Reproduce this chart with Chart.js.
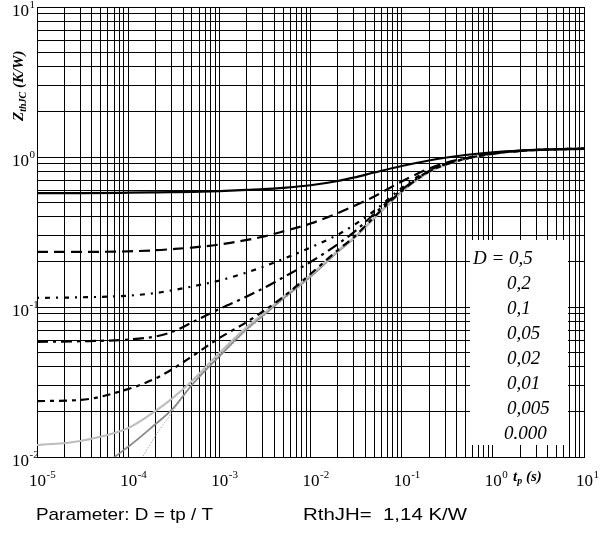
<!DOCTYPE html>
<html>
<head>
<meta charset="utf-8">
<script src="https://cdn.jsdelivr.net/npm/chart.js@4.4.1/dist/chart.umd.min.js"></script>
<style>
  html, body { margin: 0; padding: 0; background: #fff; }
  #wrap { position: relative; width: 601px; height: 546px; }
</style>
</head>
<body>
<div id="wrap"><canvas id="zth" width="601" height="546"></canvas></div>
<script>
// pulse width tp (s)
const tp = [1e-5, 3e-5, 1e-4, 2e-4, 3e-4, 5e-4, 1e-3, 2e-3, 3e-3, 5e-3, 1e-2, 2e-2, 3e-2, 5e-2, 0.1, 0.2, 0.3, 0.5, 1, 2, 5, 10];

// ZthJC (K/W), one list per duty cycle
const zD05 = [0.575, 0.575, 0.578, 0.581, 0.583, 0.586, 0.593, 0.603, 0.610, 0.623, 0.648, 0.692, 0.730, 0.788, 0.871, 0.948, 0.988, 1.031, 1.076, 1.105, 1.126, 1.131];
const zD02 = [0.233, 0.233, 0.235, 0.239, 0.243, 0.249, 0.261, 0.280, 0.294, 0.319, 0.360, 0.423, 0.471, 0.546, 0.687, 0.838, 0.912, 0.980, 1.059, 1.100, 1.126, 1.139];
const zD01 = [0.115, 0.116, 0.119, 0.124, 0.129, 0.137, 0.150, 0.170, 0.185, 0.209, 0.249, 0.304, 0.352, 0.437, 0.622, 0.819, 0.898, 0.974, 1.055, 1.100, 1.126, 1.139];
const zD005 = [0.0586, 0.0591, 0.0607, 0.0636, 0.0681, 0.0788, 0.0970, 0.1175, 0.1328, 0.1573, 0.1995, 0.263, 0.316, 0.417, 0.603, 0.807, 0.891, 0.973, 1.054, 1.100, 1.126, 1.139];
const zD002 = [0.0236, 0.0240, 0.0284, 0.0334, 0.0383, 0.0468, 0.0621, 0.0794, 0.0933, 0.1166, 0.166, 0.240, 0.293, 0.398, 0.593, 0.800, 0.891, 0.973, 1.054, 1.100, 1.126, 1.139];
const zD001 = [0.0120, 0.0128, 0.0156, 0.0203, 0.0244, 0.0321, 0.0494, 0.0735, 0.0898, 0.1166, 0.163, 0.238, 0.291, 0.393, 0.589, 0.794, 0.884, 0.970, 1.047, 1.096, 1.122, 1.139];
const zD0005 = [0.0058, 0.0071, 0.0117, 0.0166, 0.0206, 0.0302, 0.0471, 0.0714, 0.0877, 0.1138, 0.1594, 0.234, 0.287, 0.390, 0.584, 0.794, 0.884, 0.970, 1.047, 1.096, 1.122, 1.139];
const zSingle = [null, null, 0.0068, 0.0139, 0.0196, 0.0302, 0.0460, 0.0693, 0.0858, 0.1116, 0.1565, 0.231, 0.284, 0.387, 0.580, 0.788, 0.878, 0.965, 1.044, 1.096, 1.122, 1.139];

const dutyLabels = ["D = 0,5", "0,2", "0,1", "0,05", "0,02", "0,01", "0,005", "0.000"];
const xDecades = [-5, -4, -3, -2, -1, 0, 1];
const yDecades = [-2, -1, 0, 1];

const serif = '"Liberation Serif", "Times New Roman", serif';
const sans = '"Liberation Sans", Arial, sans-serif';

const styles = [
  { color: "#000", width: 2.2, dash: [] },
  { color: "#000", width: 2.2, dash: [11, 6] },
  { color: "#000", width: 2.2, dash: [2, 6, 5, 6] },
  { color: "#000", width: 2.2, dash: [11, 5, 3, 5] },
  { color: "#000", width: 2.2, dash: [8, 5, 4, 5] },
  { color: "#bdbdbd", width: 2, dash: [] },
  { color: "#8a8a8a", width: 1.8, dash: [] },
  { color: "#a8a8a8", width: 1, dash: [1.5, 1.5] }
];
const curves = [zD05, zD02, zD01, zD005, zD002, zD001, zD0005, zSingle];

// 1..9 per decade, no 1.5 ticks
function decadeTicks(scale) {
  const lo = Math.round(Math.log10(scale.min));
  const hi = Math.round(Math.log10(scale.max));
  const ticks = [];
  for (let e = lo; e < hi; e++) {
    for (let k = 1; k < 10; k++) ticks.push({ value: k * Math.pow(10, e) });
  }
  ticks.push({ value: Math.pow(10, hi) });
  scale.ticks = ticks;
}

function drawPow(ctx, x, y, exp, center) {
  ctx.font = "17px " + serif;
  const w = ctx.measureText("10").width;
  const x0 = center ? x - w / 2 + 0.5 : x;
  ctx.fillText("10", x0, y);
  ctx.font = "11px " + serif;
  ctx.fillText(String(exp), x0 + w + 0.5, y - 8);
}

// draws text pieces one after another, small pieces dropped as subscripts
function drawRich(ctx, x, y, parts) {
  let cx = x;
  parts.forEach(p => {
    ctx.font = p.font;
    ctx.fillText(p.t, cx, y + (p.dy || 0));
    cx += ctx.measureText(p.t).width;
  });
}

// the footer font in the scan is a bit wider than Arial
function fitText(ctx, text, x, y, w) {
  const m = ctx.measureText(text).width;
  ctx.save();
  ctx.translate(x, y);
  ctx.scale(w / m, 1);
  ctx.fillText(text, 0, 0);
  ctx.restore();
}

const overlay = {
  id: "overlay",
  afterDraw(chart) {
    const ctx = chart.ctx;
    const xs = chart.scales.x, ys = chart.scales.y;
    ctx.save();
    ctx.fillStyle = "#000";
    ctx.textAlign = "left";
    ctx.textBaseline = "alphabetic";

    yDecades.forEach(e => drawPow(ctx, 12, ys.getPixelForValue(Math.pow(10, e)) + 9, e, false));
    xDecades.forEach(e => drawPow(ctx, xs.getPixelForValue(Math.pow(10, e)), ys.bottom + 29, e, true));

    // legend box
    ctx.fillStyle = "#fff";
    ctx.fillRect(470, 240, 98, 205);
    ctx.fillStyle = "#000";
    ctx.font = "italic 19px " + serif;
    dutyLabels.forEach((lab, i) => {
      const lx = i === 0 ? 473 : (lab === "0.000" ? 504 : 507);
      ctx.fillText(lab, lx, 264 + i * 25);
    });

    // x title
    const bi = "bold italic ";
    drawRich(ctx, 513, 481, [
      { t: "t", font: bi + "15px " + serif },
      { t: "p", font: bi + "10px " + serif, dy: 3 },
      { t: " (s)", font: bi + "15px " + serif }
    ]);

    // y title
    ctx.save();
    ctx.translate(23, 121);
    ctx.rotate(-Math.PI / 2);
    drawRich(ctx, 0, 0, [
      { t: "Z", font: bi + "15px " + serif },
      { t: "thJC", font: bi + "10px " + serif, dy: 3 },
      { t: " (K/W)", font: bi + "15px " + serif }
    ]);
    ctx.restore();

    // footer
    ctx.font = "17px " + sans;
    fitText(ctx, "Parameter: D = tp / T", 36, 520, 177);
    fitText(ctx, "RthJH=  1,14 K/W", 303, 520, 164);
    ctx.restore();
  }
};

new Chart(document.getElementById("zth"), {
  type: "line",
  data: {
    datasets: curves.map((arr, i) => ({
      label: dutyLabels[i],
      data: tp.map((t, j) => ({ x: t, y: arr[j] })),
      borderColor: styles[i].color,
      borderWidth: styles[i].width,
      borderDash: styles[i].dash,
      pointRadius: 0,
      fill: false,
      cubicInterpolationMode: "monotone"
    }))
  },
  options: {
    responsive: false,
    animation: false,
    devicePixelRatio: 1,
    layout: { padding: { left: 37, top: 7, right: 17, bottom: 89 } },
    plugins: { legend: { display: false }, tooltip: { enabled: false } },
    scales: {
      x: {
        type: "logarithmic",
        min: 1e-5,
        max: 10,
        afterBuildTicks: decadeTicks,
        ticks: { display: false },
        grid: { color: "#000", lineWidth: 1, drawTicks: false },
        border: { color: "#000", width: 1 }
      },
      y: {
        type: "logarithmic",
        min: 0.01,
        max: 10,
        afterBuildTicks: decadeTicks,
        ticks: { display: false },
        grid: { color: "#000", lineWidth: 1, drawTicks: false },
        border: { color: "#000", width: 1 }
      }
    }
  },
  plugins: [overlay]
});
</script>
</body>
</html>
